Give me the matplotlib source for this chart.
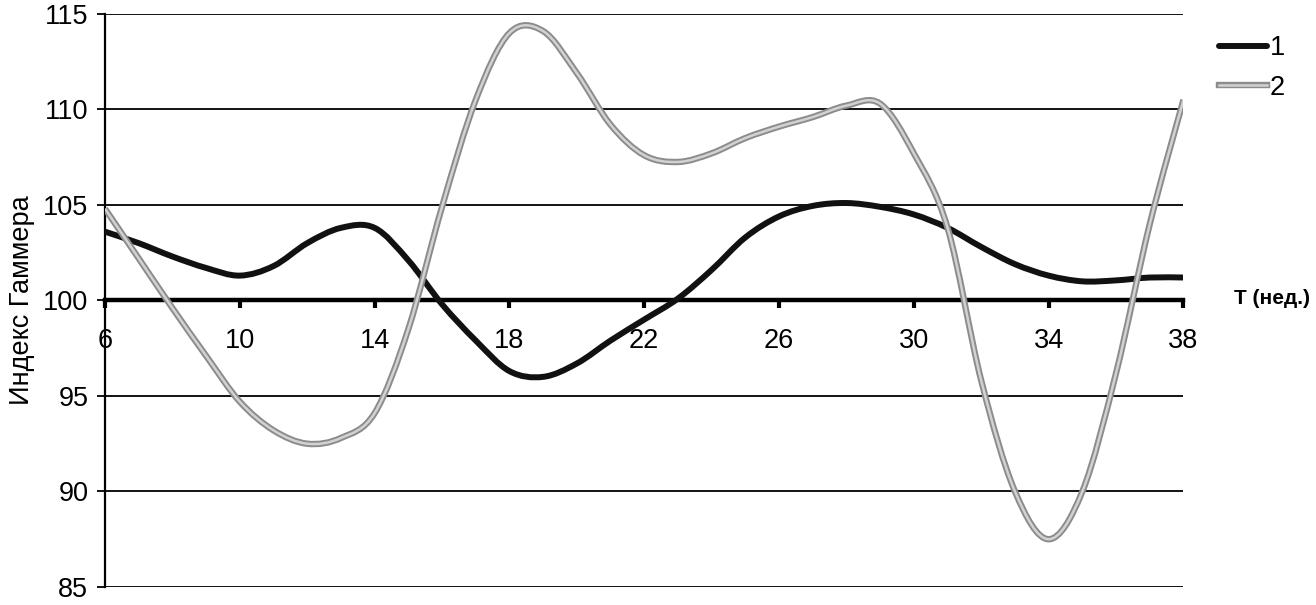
import matplotlib
matplotlib.use('Agg')
import matplotlib.pyplot as plt
import numpy as np
from matplotlib.path import Path
from matplotlib.patches import PathPatch
from matplotlib.lines import Line2D
import matplotlib.patheffects as pe

plt.rcParams['font.family'] = ['Liberation Sans', 'DejaVu Sans']

# недели
weeks = list(range(6, 39))
# серия 1
series1 = [103.6, 103.0, 102.3, 101.7, 101.3, 101.8, 103.0, 103.8, 103.8, 102.1,
           99.8, 97.9, 96.3, 96.0, 96.7, 97.9, 99.0, 100.1, 101.6, 103.3,
           104.4, 104.95, 105.1, 104.9, 104.5, 103.8, 102.8, 101.9, 101.3, 101.0,
           101.05, 101.2, 101.2]
# серия 2
series2 = [104.8, 102.2, 99.6, 97.1, 94.7, 93.2, 92.5, 92.8, 94.1, 98.5,
           104.9, 110.5, 114.0, 114.1, 111.9, 109.2, 107.6, 107.25, 107.7, 108.5,
           109.1, 109.6, 110.2, 110.3, 107.7, 103.8, 95.8, 90.0, 87.5, 90.0,
           96.2, 104.0, 110.5]
xticks = [6, 10, 14, 18, 22, 26, 30, 34, 38]
yticks = [85, 90, 95, 100, 105, 110, 115]
labels = ['1', '2']


def smooth_path(xs, ys):
    # сглаженная линия как в Excel (кривые Безье)
    pts = np.column_stack([xs, ys]).astype(float)
    n = len(pts)
    verts = [pts[0]]
    codes = [Path.MOVETO]
    for i in range(n - 1):
        p0 = pts[i - 1] if i > 0 else pts[i]
        p1 = pts[i]
        p2 = pts[i + 1]
        p3 = pts[i + 2] if i + 2 < n else pts[i + 1]
        verts += [p1 + (p2 - p0) / 6, p2 - (p3 - p1) / 6, p2]
        codes += [Path.CURVE4] * 3
    return Path(verts, codes)


fig = plt.figure(figsize=(13.16, 6.05), dpi=100)
ax = fig.add_axes([0.0798, 0.0298, 0.8195, 0.9472])

ax.set_xlim(6, 38)
ax.set_ylim(85, 115)

ax.yaxis.grid(True, color='black', lw=1.3)
ax.set_axisbelow(True)

style1 = dict(color='#111111', lw=4.3, solid_capstyle='round')
gray_fx = [pe.Stroke(linewidth=4.6, foreground='#8c8c8c'), pe.Normal()]
style2 = dict(color='#d2d2d2', lw=1.8)

p1 = PathPatch(smooth_path(weeks, series1), fill=False, edgecolor=style1['color'],
               lw=style1['lw'], capstyle='round', zorder=3)
ax.add_patch(p1)
p2 = PathPatch(smooth_path(weeks, series2), fill=False, edgecolor=style2['color'],
               lw=style2['lw'], zorder=4, path_effects=gray_fx)
ax.add_patch(p2)

for s in ['top', 'right']:
    ax.spines[s].set_visible(False)
ax.spines['bottom'].set_position(('data', 100))
ax.spines['bottom'].set_linewidth(3.2)
ax.spines['bottom'].set_zorder(2.5)
ax.spines['left'].set_linewidth(1.6)

ax.set_xticks(xticks)
ax.set_yticks(yticks)
ax.tick_params(axis='x', direction='out', length=6, width=3, labelsize=19.5, pad=14)
ax.tick_params(axis='y', direction='out', length=6, width=1.3, labelsize=19.5, pad=6)

ax.set_ylabel('Индекс Гаммера', fontsize=19.5, labelpad=6)

fig.text(0.938, 0.507, 'T (нед.)', fontsize=15, fontweight='bold', ha='left', va='center')

h1 = Line2D([], [], **style1)
h2 = Line2D([], [], path_effects=gray_fx, **style2)
fig.legend([h1, h2], labels, loc='upper left', bbox_to_anchor=(0.9265, 0.942),
           frameon=False, fontsize=19.5, handlelength=1.75, handletextpad=0.1,
           labelspacing=0.5, borderpad=0, borderaxespad=0)

fig.savefig('out.png', dpi=100)
